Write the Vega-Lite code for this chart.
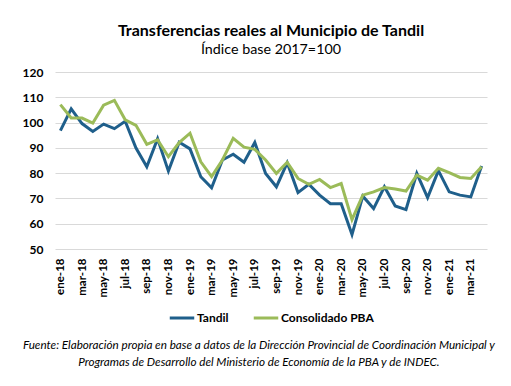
{
  "$schema": "https://vega.github.io/schema/vega-lite/v6.json",
  "padding": {"left": 22, "top": 22, "right": 5, "bottom": 5},
  "title": {
    "text": [
      "Fuente: Elaboración propia en base a datos de la Dirección Provincial de Coordinación Municipal y",
      "Programas de Desarrollo del Ministerio de Economía de la PBA y de INDEC."
    ],
    "orient": "bottom", "anchor": "middle", "font": "Lato", "fontStyle": "italic",
    "fontWeight": "normal", "fontSize": 11.7, "lineHeight": 17, "offset": 16, "dx": 4, "color": "#000000"
  },
  "config": {
    "view": {"stroke": null},
    "font": "Lato",
    "style": {"group-title": {"fontSize": 16, "fontWeight": "bold", "font": "Lato"}},
    "legend": {"layout": {"bottom": {"anchor": "middle"}}}
  },
  "vconcat": [
    {
      "width": 432,
      "height": 177,
      "title": {
        "text": "Transferencias reales al Municipio de Tandil",
        "subtitle": "Índice base 2017=100",
        "font": "Lato", "fontSize": 16, "fontWeight": "bold", "color": "#000000",
        "subtitleFont": "Lato", "subtitleFontSize": 14.3, "subtitleColor": "#000000",
        "anchor": "middle", "offset": 9, "subtitlePadding": 4
      },
      "data": {
        "values": [
          {"mes": "ene-18", "serie": "Tandil", "valor": 96.8},
          {"mes": "feb-18", "serie": "Tandil", "valor": 105.4},
          {"mes": "mar-18", "serie": "Tandil", "valor": 99.6},
          {"mes": "abr-18", "serie": "Tandil", "valor": 96.5},
          {"mes": "may-18", "serie": "Tandil", "valor": 99.4},
          {"mes": "jun-18", "serie": "Tandil", "valor": 97.6},
          {"mes": "jul-18", "serie": "Tandil", "valor": 100.5},
          {"mes": "ago-18", "serie": "Tandil", "valor": 89.9},
          {"mes": "sep-18", "serie": "Tandil", "valor": 82.5},
          {"mes": "oct-18", "serie": "Tandil", "valor": 93.6},
          {"mes": "nov-18", "serie": "Tandil", "valor": 80.8},
          {"mes": "dic-18", "serie": "Tandil", "valor": 92.2},
          {"mes": "ene-19", "serie": "Tandil", "valor": 89.6},
          {"mes": "feb-19", "serie": "Tandil", "valor": 78.6},
          {"mes": "mar-19", "serie": "Tandil", "valor": 74.2},
          {"mes": "abr-19", "serie": "Tandil", "valor": 85.2},
          {"mes": "may-19", "serie": "Tandil", "valor": 87.5},
          {"mes": "jun-19", "serie": "Tandil", "valor": 84.3},
          {"mes": "jul-19", "serie": "Tandil", "valor": 92.1},
          {"mes": "ago-19", "serie": "Tandil", "valor": 79.9},
          {"mes": "sep-19", "serie": "Tandil", "valor": 74.6},
          {"mes": "oct-19", "serie": "Tandil", "valor": 84.1},
          {"mes": "nov-19", "serie": "Tandil", "valor": 72.3},
          {"mes": "dic-19", "serie": "Tandil", "valor": 75.6},
          {"mes": "ene-20", "serie": "Tandil", "valor": 71.3},
          {"mes": "feb-20", "serie": "Tandil", "valor": 67.9},
          {"mes": "mar-20", "serie": "Tandil", "valor": 67.9},
          {"mes": "abr-20", "serie": "Tandil", "valor": 55.7},
          {"mes": "may-20", "serie": "Tandil", "valor": 70.9},
          {"mes": "jun-20", "serie": "Tandil", "valor": 66.0},
          {"mes": "jul-20", "serie": "Tandil", "valor": 74.6},
          {"mes": "ago-20", "serie": "Tandil", "valor": 67.0},
          {"mes": "sep-20", "serie": "Tandil", "valor": 65.6},
          {"mes": "oct-20", "serie": "Tandil", "valor": 79.9},
          {"mes": "nov-20", "serie": "Tandil", "valor": 70.3},
          {"mes": "dic-20", "serie": "Tandil", "valor": 81.0},
          {"mes": "ene-21", "serie": "Tandil", "valor": 72.6},
          {"mes": "feb-21", "serie": "Tandil", "valor": 71.3},
          {"mes": "mar-21", "serie": "Tandil", "valor": 70.6},
          {"mes": "abr-21", "serie": "Tandil", "valor": 82.8},
          {"mes": "ene-18", "serie": "Consolidado PBA", "valor": 107.1},
          {"mes": "feb-18", "serie": "Consolidado PBA", "valor": 101.8},
          {"mes": "mar-18", "serie": "Consolidado PBA", "valor": 101.8},
          {"mes": "abr-18", "serie": "Consolidado PBA", "valor": 99.8},
          {"mes": "may-18", "serie": "Consolidado PBA", "valor": 106.9},
          {"mes": "jun-18", "serie": "Consolidado PBA", "valor": 108.8},
          {"mes": "jul-18", "serie": "Consolidado PBA", "valor": 101.1},
          {"mes": "ago-18", "serie": "Consolidado PBA", "valor": 98.9},
          {"mes": "sep-18", "serie": "Consolidado PBA", "valor": 91.4},
          {"mes": "oct-18", "serie": "Consolidado PBA", "valor": 93.2},
          {"mes": "nov-18", "serie": "Consolidado PBA", "valor": 86.5},
          {"mes": "dic-18", "serie": "Consolidado PBA", "valor": 92.1},
          {"mes": "ene-19", "serie": "Consolidado PBA", "valor": 95.8},
          {"mes": "feb-19", "serie": "Consolidado PBA", "valor": 84.5},
          {"mes": "mar-19", "serie": "Consolidado PBA", "valor": 78.6},
          {"mes": "abr-19", "serie": "Consolidado PBA", "valor": 85.2},
          {"mes": "may-19", "serie": "Consolidado PBA", "valor": 93.8},
          {"mes": "jun-19", "serie": "Consolidado PBA", "valor": 90.3},
          {"mes": "jul-19", "serie": "Consolidado PBA", "valor": 89.4},
          {"mes": "ago-19", "serie": "Consolidado PBA", "valor": 85.2},
          {"mes": "sep-19", "serie": "Consolidado PBA", "valor": 79.9},
          {"mes": "oct-19", "serie": "Consolidado PBA", "valor": 84.3},
          {"mes": "nov-19", "serie": "Consolidado PBA", "valor": 77.9},
          {"mes": "dic-19", "serie": "Consolidado PBA", "valor": 75.6},
          {"mes": "ene-20", "serie": "Consolidado PBA", "valor": 77.5},
          {"mes": "feb-20", "serie": "Consolidado PBA", "valor": 74.3},
          {"mes": "mar-20", "serie": "Consolidado PBA", "valor": 75.9},
          {"mes": "abr-20", "serie": "Consolidado PBA", "valor": 61.6},
          {"mes": "may-20", "serie": "Consolidado PBA", "valor": 71.3},
          {"mes": "jun-20", "serie": "Consolidado PBA", "valor": 72.6},
          {"mes": "jul-20", "serie": "Consolidado PBA", "valor": 74.3},
          {"mes": "ago-20", "serie": "Consolidado PBA", "valor": 73.7},
          {"mes": "sep-20", "serie": "Consolidado PBA", "valor": 72.9},
          {"mes": "oct-20", "serie": "Consolidado PBA", "valor": 79.2},
          {"mes": "nov-20", "serie": "Consolidado PBA", "valor": 77.2},
          {"mes": "dic-20", "serie": "Consolidado PBA", "valor": 81.9},
          {"mes": "ene-21", "serie": "Consolidado PBA", "valor": 80.2},
          {"mes": "feb-21", "serie": "Consolidado PBA", "valor": 78.3},
          {"mes": "mar-21", "serie": "Consolidado PBA", "valor": 77.9},
          {"mes": "abr-21", "serie": "Consolidado PBA", "valor": 82.5}
        ]
      },
      "mark": {"type": "line", "strokeWidth": 3},
      "encoding": {
        "x": {
          "field": "mes", "type": "ordinal", "sort": null,
          "axis": {
            "title": null,
            "values": ["ene-18","mar-18","may-18","jul-18","sep-18","nov-18","ene-19","mar-19","may-19","jul-19","sep-19","nov-19","ene-20","mar-20","may-20","jul-20","sep-20","nov-20","ene-21","mar-21"],
            "labelAngle": -90, "ticks": false, "domain": false, "grid": false,
            "labelFont": "Lato", "labelFontWeight": "bold", "labelFontSize": 11.5,
            "labelColor": "#000000", "labelPadding": 9
          }
        },
        "y": {
          "field": "valor", "type": "quantitative",
          "scale": {"domain": [50, 120], "nice": false, "zero": false},
          "axis": {
            "title": null, "values": [50, 60, 70, 80, 90, 100, 110, 120],
            "domain": false, "ticks": false, "gridColor": "#d9d9d9", "gridWidth": 1,
            "labelFont": "Lato", "labelFontWeight": "bold", "labelFontSize": 12,
            "labelColor": "#000000", "labelPadding": 12
          }
        },
        "color": {
          "field": "serie", "type": "nominal",
          "scale": {"domain": ["Tandil", "Consolidado PBA"], "range": ["#1f5f8b", "#9bbb59"]},
          "legend": {
            "title": null, "orient": "bottom", "direction": "horizontal",
            "symbolType": "stroke", "symbolSize": 600, "symbolStrokeWidth": 3,
            "labelFont": "Lato", "labelFontSize": 12, "labelFontWeight": "bold",
            "labelColor": "#000000", "offset": 7, "columnPadding": 18, "labelOffset": 1
          }
        }
      }
    }
  ]
}
